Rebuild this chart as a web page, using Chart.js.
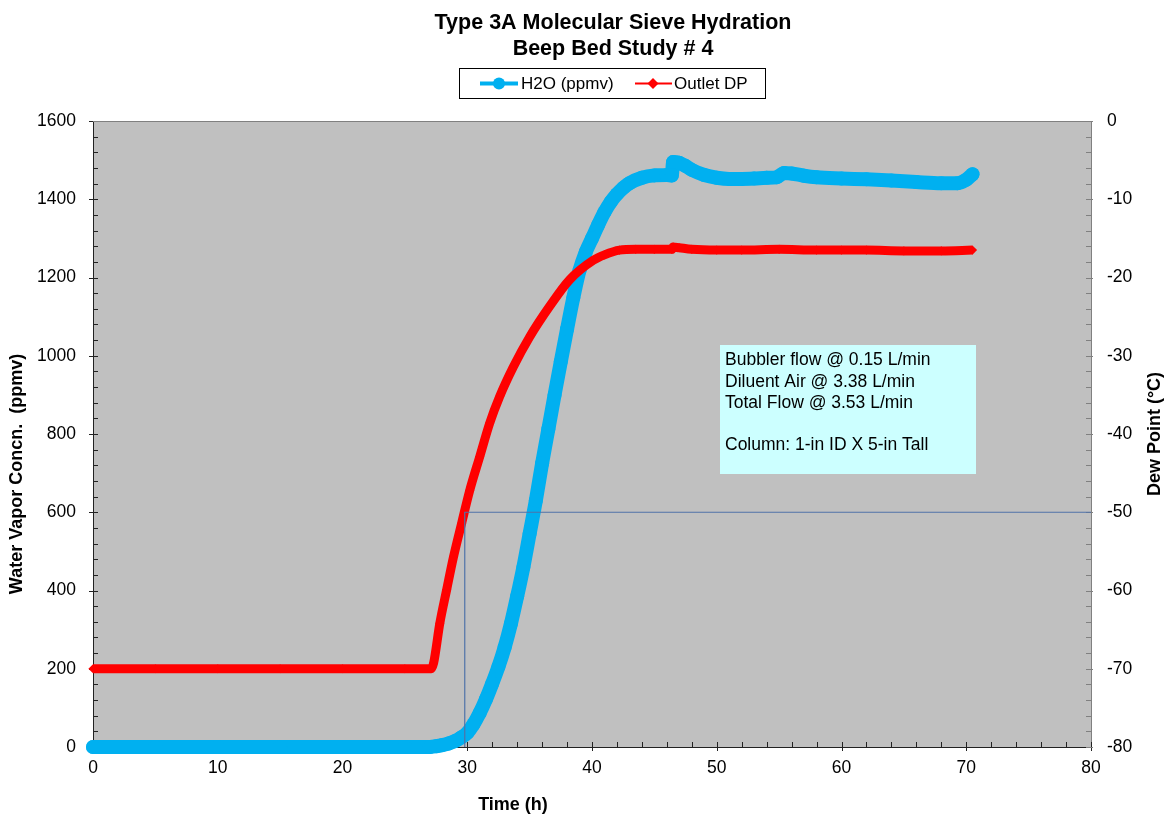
<!DOCTYPE html>
<html>
<head>
<meta charset="utf-8">
<script src="https://cdn.jsdelivr.net/npm/chart.js@4.4.1/dist/chart.umd.min.js"></script>
<style>
html,body{margin:0;padding:0;background:#ffffff;}
#wrap{width:1165px;height:817px;position:relative;}
</style>
</head>
<body>
<div id="wrap"><canvas id="c" width="1165" height="817"></canvas></div>
<script>
// ---------------- DATA ----------------
const titleLines = ["Type 3A Molecular Sieve Hydration", "Beep Bed Study # 4"];
const seriesNames = ["H2O (ppmv)", "Outlet DP"];
const xAxisTitle = "Time (h)";
const leftAxisTitle = "Water Vapor Concn.  (ppmv)";
const rightAxisTitle = "Dew Point (\u00B0C)";
const noteLines = ["Bubbler flow @ 0.15 L/min", "Diluent Air @ 3.38 L/min", "Total Flow @ 3.53 L/min", "", "Column: 1-in ID X 5-in Tall"];

const xTicks = [0, 10, 20, 30, 40, 50, 60, 70, 80];
const leftTicks = [0, 200, 400, 600, 800, 1000, 1200, 1400, 1600];
const rightTicks = [-80, -70, -60, -50, -40, -30, -20, -10, 0];

const h2oTime = [0, 5, 10, 15, 20, 25, 27, 27.5, 28, 28.5, 29, 29.5, 30, 30.5, 31, 31.5, 32, 32.5, 33, 33.5,
  34, 34.5, 35, 35.5, 36, 36.5, 37, 37.5, 38, 38.5, 39, 39.5, 40, 40.5, 41, 41.5, 42, 42.5, 43, 44,
  45, 46, 46.4, 46.5, 47, 47.5, 48, 49, 50, 51, 52, 53, 54, 54.8, 55.4, 56, 57, 58, 60, 62,
  64, 66, 68, 69.3, 70, 70.5];
const h2oPpmv = [0, 0, 0, 0, 0, 0, 0, 2, 5, 9, 15, 24, 36, 58, 87, 122, 162, 205, 255, 315,
  385, 460, 545, 630, 725, 812, 900, 985, 1068, 1148, 1218, 1265, 1300, 1335, 1367, 1393, 1413, 1429, 1441, 1455,
  1461, 1462, 1461, 1495, 1493, 1485, 1475, 1462, 1455, 1452, 1452, 1453, 1455, 1456, 1467, 1466, 1460, 1456, 1453, 1451,
  1448, 1444, 1441, 1441, 1450, 1464];

const dpTime = [0, 5, 10, 15, 20, 25, 27.1, 27.3, 27.8, 28.35, 28.9, 29.55, 30.2, 31, 31.8, 32.6, 33.7, 35, 36.6, 38.2,
  40.1, 41, 42.2, 43.5, 45, 46.4, 46.5, 47, 48, 50, 52, 55, 58, 60, 62, 65, 68, 70.5];
const dpCelsius = [-70, -70, -70, -70, -70, -70, -70, -69.3, -64.2, -59.9, -55.7, -51.4, -47.2, -42.9, -38.6, -35.2, -31.4, -27.6, -23.7, -20.3,
  -17.8, -17.1, -16.5, -16.4, -16.4, -16.4, -16.1, -16.2, -16.4, -16.5, -16.5, -16.4, -16.5, -16.5, -16.5, -16.6, -16.6, -16.5];

// breakthrough reference line (time, ppmv)
const refTime = [29.8, 29.8, 80];
const refPpmv = [0, 600, 600];

// note box extent in data units (time, ppmv)
const noteBoxTime = [50.3, 70.8];
const noteBoxPpmv = [1027, 698];

// ---------------- CHART ----------------
const FONT = "'Liberation Sans', Arial, Helvetica, sans-serif";
Chart.defaults.font.family = FONT;
Chart.defaults.color = '#000';

const BLUE = '#00B0F0';
const RED = '#FF0000';

function pairs(xs, ys) { return xs.map((x, i) => ({x: x, y: ys[i]})); }

function minorValues(majors, sub) {
  const out = [];
  for (let i = 0; i < majors.length - 1; i++) {
    const a = majors[i], b = majors[i + 1];
    for (let k = 1; k < sub; k++) out.push(a + (b - a) * k / sub);
  }
  return out;
}

const decor = {
  id: 'decor',
  beforeDraw(chart) {
    const {ctx, chartArea: a} = chart;
    ctx.save();
    ctx.fillStyle = '#C0C0C0';
    ctx.fillRect(a.left, a.top, a.right - a.left, a.bottom - a.top);
    ctx.restore();
  },
  beforeDatasetsDraw(chart) {
    const {ctx, chartArea: a, scales} = chart;
    ctx.save();
    ctx.lineWidth = 1;
    ctx.strokeStyle = '#222';
    const y = scales.y;
    leftTicks.forEach(v => { const p = Math.round(y.getPixelForValue(v)) + 0.5; ctx.beginPath(); ctx.moveTo(a.left - 4, p); ctx.lineTo(a.left + 5, p); ctx.stroke(); });
    minorValues(leftTicks, 5).forEach(v => { const p = Math.round(y.getPixelForValue(v)) + 0.5; ctx.beginPath(); ctx.moveTo(a.left, p); ctx.lineTo(a.left + 5, p); ctx.stroke(); });
    const x = scales.x;
    xTicks.forEach(v => { const p = Math.round(x.getPixelForValue(v)) + 0.5; ctx.beginPath(); ctx.moveTo(p, a.bottom - 5); ctx.lineTo(p, a.bottom + 4); ctx.stroke(); });
    minorValues(xTicks, 5).forEach(v => { const p = Math.round(x.getPixelForValue(v)) + 0.5; ctx.beginPath(); ctx.moveTo(p, a.bottom - 5); ctx.lineTo(p, a.bottom); ctx.stroke(); });
    ctx.strokeStyle = '#808080';
    const y2 = scales.y2;
    rightTicks.forEach(v => { const p = Math.round(y2.getPixelForValue(v)) + 0.5; ctx.beginPath(); ctx.moveTo(a.right - 5, p); ctx.lineTo(a.right + 2, p); ctx.stroke(); });
    minorValues(rightTicks, 5).forEach(v => { const p = Math.round(y2.getPixelForValue(v)) + 0.5; ctx.beginPath(); ctx.moveTo(a.right - 5, p); ctx.lineTo(a.right, p); ctx.stroke(); });
    ctx.beginPath(); ctx.moveTo(a.left, Math.round(a.top) + 0.5); ctx.lineTo(a.right, Math.round(a.top) + 0.5); ctx.stroke();
    ctx.restore();
  },
  afterDatasetsDraw(chart) {
    const {ctx, scales} = chart;
    const x = scales.x, y = scales.y;
    const l = Math.round(x.getPixelForValue(noteBoxTime[0]));
    const r = Math.round(x.getPixelForValue(noteBoxTime[1]));
    const t = Math.round(y.getPixelForValue(noteBoxPpmv[0]));
    const b = Math.round(y.getPixelForValue(noteBoxPpmv[1]));
    ctx.save();
    ctx.fillStyle = '#CCFFFF';
    ctx.fillRect(l, t, r - l, b - t);
    ctx.fillStyle = '#000';
    ctx.font = '17.5px ' + FONT;
    ctx.textAlign = 'left';
    ctx.textBaseline = 'middle';
    noteLines.forEach((s, i) => { if (s) ctx.fillText(s, l + 5, t + 15.5 + i * 21.2); });
    ctx.restore();
  },
  afterDraw(chart) {
    const {ctx} = chart;
    ctx.save();
    ctx.fillStyle = '#000';
    ctx.font = 'bold 21.5px ' + FONT;
    ctx.textAlign = 'center';
    ctx.textBaseline = 'middle';
    ctx.fillText(titleLines[0], 613, 23);
    ctx.fillText(titleLines[1], 613, 49);
    ctx.font = 'bold 18px ' + FONT;
    ctx.fillText(xAxisTitle, 513, 805);
    ctx.save(); ctx.translate(17, 474); ctx.rotate(-Math.PI / 2); ctx.fillText(leftAxisTitle, 0, 0); ctx.restore();
    ctx.save(); ctx.translate(1155, 434); ctx.rotate(-Math.PI / 2); ctx.fillText(rightAxisTitle, 0, 0); ctx.restore();
    ctx.strokeStyle = '#000';
    ctx.lineWidth = 1;
    ctx.strokeRect(459.5, 68.5, 306, 30);
    const ly = 83.5;
    ctx.strokeStyle = BLUE; ctx.lineWidth = 4;
    ctx.beginPath(); ctx.moveTo(480, ly); ctx.lineTo(518, ly); ctx.stroke();
    ctx.fillStyle = BLUE; ctx.beginPath(); ctx.arc(499, ly, 6, 0, Math.PI * 2); ctx.fill();
    ctx.strokeStyle = RED; ctx.lineWidth = 2;
    ctx.beginPath(); ctx.moveTo(635, ly); ctx.lineTo(672, ly); ctx.stroke();
    ctx.fillStyle = RED; ctx.beginPath(); ctx.moveTo(653, ly - 5.5); ctx.lineTo(658.5, ly); ctx.lineTo(653, ly + 5.5); ctx.lineTo(647.5, ly); ctx.closePath(); ctx.fill();
    ctx.fillStyle = '#000';
    ctx.font = '17px ' + FONT;
    ctx.textAlign = 'left';
    ctx.fillText(seriesNames[0], 521, ly + 0.5);
    ctx.fillText(seriesNames[1], 674, ly + 0.5);
    ctx.restore();
  }
};

new Chart(document.getElementById('c'), {
  type: 'line',
  data: {
    datasets: [
      {
        label: 'ref', data: pairs(refTime, refPpmv), yAxisID: 'y',
        borderColor: '#4F72A8', borderWidth: 1.2, pointRadius: 0, tension: 0, order: 0, clip: false
      },
      {
        label: seriesNames[1], data: pairs(dpTime, dpCelsius), yAxisID: 'y2',
        borderColor: RED, borderWidth: 9, pointStyle: 'rectRot', pointRadius: 4.6,
        pointBackgroundColor: RED, pointBorderWidth: 0, cubicInterpolationMode: 'monotone',
        borderJoinStyle: 'round', order: 1, clip: false
      },
      {
        label: seriesNames[0], data: pairs(h2oTime, h2oPpmv), yAxisID: 'y',
        borderColor: BLUE, borderWidth: 14, pointStyle: 'circle', pointRadius: 7,
        pointBackgroundColor: BLUE, pointBorderWidth: 0, cubicInterpolationMode: 'monotone',
        borderJoinStyle: 'round', borderCapStyle: 'round', order: 2, clip: false
      }
    ]
  },
  options: {
    responsive: false,
    animation: false,
    devicePixelRatio: 1,
    layout: {padding: {top: 121, left: 0, right: 0, bottom: 0}},
    plugins: {legend: {display: false}, title: {display: false}, tooltip: {enabled: false}},
    events: [],
    scales: {
      x: {
        type: 'linear', position: 'bottom', min: 0, max: 80,
        afterBuildTicks: s => { s.ticks = xTicks.map(v => ({value: v})); },
        afterFit: s => { s.height = 70; },
        grid: {display: false, drawTicks: false},
        border: {display: true, color: '#222', width: 1},
        ticks: {padding: 11, color: '#000', font: {size: 17.5}, maxRotation: 0, autoSkip: false, callback: v => String(v)}
      },
      y: {
        type: 'linear', position: 'left', min: 0, max: 1600,
        afterBuildTicks: s => { s.ticks = leftTicks.map(v => ({value: v})); },
        afterFit: s => { s.width = 93; },
        grid: {display: false, drawTicks: false},
        border: {display: true, color: '#222', width: 1},
        ticks: {padding: 17, color: '#000', font: {size: 17.5}, autoSkip: false, callback: v => String(v)}
      },
      y2: {
        type: 'linear', position: 'right', min: -80, max: 0,
        afterBuildTicks: s => { s.ticks = rightTicks.map(v => ({value: v})); },
        afterFit: s => { s.width = 74; },
        grid: {display: false, drawTicks: false},
        border: {display: true, color: '#808080', width: 1},
        ticks: {padding: 16, color: '#000', font: {size: 17.5}, autoSkip: false, callback: v => String(v)}
      }
    }
  },
  plugins: [decor]
});
</script>
</body>
</html>
